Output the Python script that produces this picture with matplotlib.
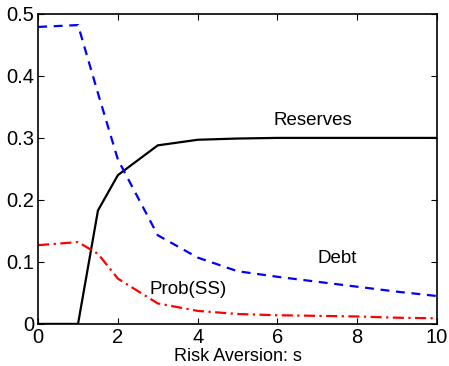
import numpy as np
import matplotlib
matplotlib.use('Agg')
import matplotlib.pyplot as plt

plt.rcParams['font.family'] = ['Liberation Sans', 'DejaVu Sans']

# risk aversion grid and model outcomes
s = [0, 1, 1.5, 2, 3, 4, 5, 6, 7, 8, 9, 10]
reserves = [0.0, 0.0, 0.183, 0.240, 0.288, 0.297, 0.299, 0.300, 0.300, 0.300, 0.300, 0.300]
debt = [0.479, 0.482, 0.372, 0.265, 0.143, 0.107, 0.085, 0.076, 0.068, 0.060, 0.052, 0.045]
probSS = [0.127, 0.132, 0.113, 0.073, 0.033, 0.021, 0.016, 0.014, 0.013, 0.012, 0.010, 0.009]

fig = plt.figure(figsize=(4.49, 3.66), dpi=100)
ax = fig.add_axes([0.085, 0.115, 0.888, 0.847])

ax.plot(s, reserves, color='k', lw=1.6)
ax.plot(s, debt, color='b', lw=1.6, linestyle=(0, (4, 3)))
ax.plot(s, probSS, color='r', lw=1.6, linestyle=(0, (5, 2, 1, 2)))

ax.text(6.9, 0.328, 'Reserves', fontsize=13.5, ha='center', va='center')
ax.text(7.5, 0.105, 'Debt', fontsize=13.5, ha='center', va='center')
ax.text(3.75, 0.056, 'Prob(SS)', fontsize=13.5, ha='center', va='center')

ax.set_xlim(0, 10)
ax.set_ylim(0, 0.5)
ax.set_xticks([0, 2, 4, 6, 8, 10])
ax.set_yticks([0, 0.1, 0.2, 0.3, 0.4, 0.5])
ax.set_yticklabels(['0', '0.1', '0.2', '0.3', '0.4', '0.5'])
ax.tick_params(direction='in', top=True, right=True, labelsize=14.5, length=4, width=0.8)
ax.tick_params(axis='x', pad=3)
ax.tick_params(axis='y', pad=3)
for sp in ax.spines.values():
    sp.set_linewidth(1.2)
ax.set_xlabel('Risk Aversion: s', fontsize=13, labelpad=0.5)

plt.savefig('out.png', dpi=100)
